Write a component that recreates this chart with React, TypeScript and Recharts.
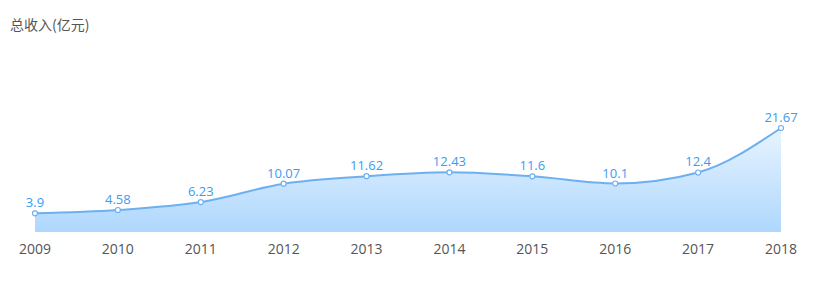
import { AreaChart, Area, XAxis, YAxis, LabelList } from 'recharts';

const years = ['2009', '2010', '2011', '2012', '2013', '2014', '2015', '2016', '2017', '2018'];
const income = [3.9, 4.58, 6.23, 10.07, 11.62, 12.43, 11.6, 10.1, 12.4, 21.67];

const chartData = years.map((y, i) => ({ year: y, value: income[i] }));

const font = '"Noto Sans CJK SC", "Noto Sans", sans-serif';
const numFont = '"Open Sans", "Noto Sans", sans-serif';

export default function App() {
  return (
    <div style={{ position: 'absolute', left: 0, top: 0, width: 824, height: 295, background: '#fff', fontFamily: font }}>
      <div style={{ position: 'absolute', left: 10, top: 14, fontSize: 14, color: '#555' }}>总收入(亿元)</div>
      <AreaChart width={824} height={295} data={chartData} margin={{ top: 112, right: 43, bottom: 33, left: 35 }}>
        <defs>
          <linearGradient id="fillBlue" x1="0" y1="0" x2="0" y2="1">
            <stop offset="0%" stopColor="#e8f4ff" />
            <stop offset="100%" stopColor="#aed7fd" />
          </linearGradient>
        </defs>
        <XAxis
          dataKey="year"
          axisLine={false}
          tickLine={false}
          tick={{ fill: '#555', fontSize: 14, fontFamily: numFont, dy: 4 }}
          interval={0}
        />
        <YAxis hide domain={[0, 25]} />
        <Area
          type="monotone"
          dataKey="value"
          stroke="#6db0f2"
          strokeWidth={2}
          fill="url(#fillBlue)"
          fillOpacity={1}
          dot={{ r: 2.5, fill: '#fff', stroke: '#6db0f2', strokeWidth: 1.2 }}
          activeDot={false}
          isAnimationActive={false}
        >
          <LabelList dataKey="value" position="top" offset={6} fill="#3a9cf2" fontSize={13} fontFamily={numFont} />
        </Area>
      </AreaChart>
    </div>
  );
}
